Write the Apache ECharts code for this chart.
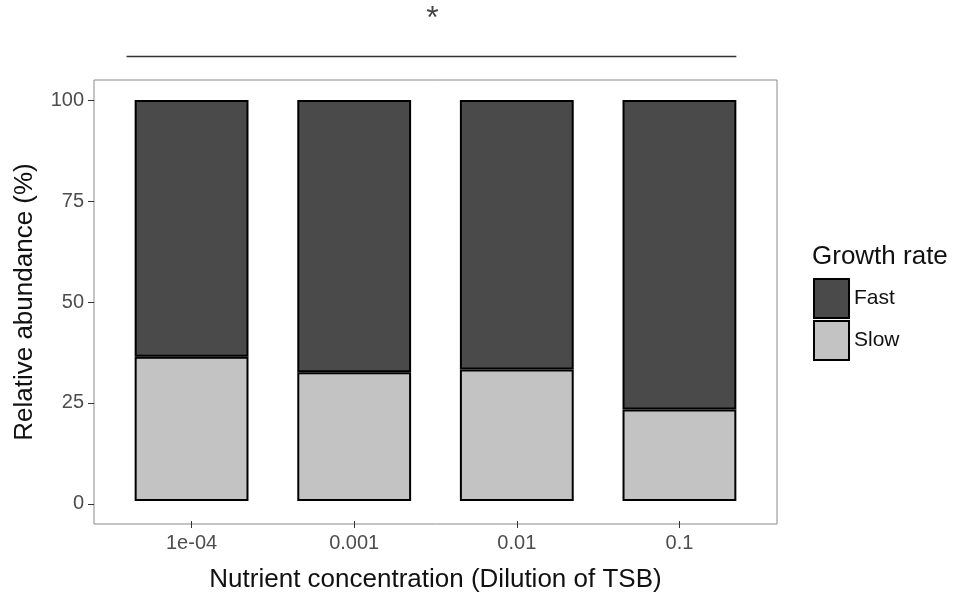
<!DOCTYPE html>
<html>
<head>
<meta charset="utf-8">
<script src="https://cdn.jsdelivr.net/npm/echarts@6/dist/echarts.min.js"></script>
<style>html,body{margin:0;padding:0;background:#fff}#c{width:953px;height:598px}</style>
</head>
<body>
<div id="c"></div>
<script>
var categories = ['1e-04', '0.001', '0.01', '0.1'];
var slowValues = [36.0, 32.1, 32.8, 22.8];
var fastValues = [64.0, 67.9, 67.2, 77.2];
var yTicks = [0, 25, 50, 75, 100];
var sigLabel = '*';
var sigSpan = [0.6, 4.35];
var sigLevel = 110.8;

var FONT = '"Liberation Sans", Arial, sans-serif';
var chart = echarts.init(document.getElementById('c'), null, {renderer: 'canvas'});

// panel geometry: ggplot-style discrete expansion of 0.6 units on each side
var PANEL = {left: 94, right: 176, top: 80, bottom: 74};
var unitPx = (953 - PANEL.left - PANEL.right) / 4.2;
var inset = 0.1 * unitPx;

var option = {
  animation: false,
  backgroundColor: '#ffffff',
  textStyle: {fontFamily: FONT},
  grid: [
    {left: PANEL.left, right: PANEL.right, top: PANEL.top, bottom: PANEL.bottom,
     show: true, borderColor: '#8a8a8a', borderWidth: 1, backgroundColor: '#ffffff'},
    {left: PANEL.left + inset, right: PANEL.right + inset, top: PANEL.top, bottom: PANEL.bottom}
  ],
  title: {
    text: 'Growth rate', left: 812, top: 244, padding: 0,
    textStyle: {fontFamily: FONT, fontSize: 26, fontWeight: 'normal', color: '#111'}
  },
  legend: {
    data: ['Fast', 'Slow'],
    orient: 'vertical', left: 813, top: 278, padding: 0,
    itemWidth: 35, itemHeight: 39, itemGap: 1, icon: 'rect',
    itemStyle: {borderColor: '#000', borderWidth: 2},
    textStyle: {fontFamily: FONT, fontSize: 21, color: '#111'}
  },
  xAxis: [
    {type: 'value', gridIndex: 0, min: 0.4, max: 4.6, show: false},
    {
      type: 'category', gridIndex: 1, data: categories, position: 'bottom',
      name: 'Nutrient concentration (Dilution of TSB)',
      nameLocation: 'middle', nameGap: 46,
      nameTextStyle: {fontFamily: FONT, fontSize: 26, color: '#111'},
      axisLine: {show: false, onZero: false},
      splitLine: {show: false},
      axisTick: {show: true, alignWithLabel: true, length: 7, lineStyle: {color: '#333', width: 1}},
      axisLabel: {margin: 12, fontFamily: FONT, fontSize: 20, color: '#4d4d4d'}
    }
  ],
  yAxis: [
    {
      type: 'value', gridIndex: 0, min: -5, max: 105,
      name: 'Relative abundance (%)',
      nameLocation: 'middle', nameGap: 56, nameRotate: 90,
      nameTextStyle: {fontFamily: FONT, fontSize: 26, color: '#111'},
      axisLine: {show: false, onZero: false},
      splitLine: {show: false},
      axisTick: {show: true, length: 6, customValues: yTicks, lineStyle: {color: '#333', width: 1}},
      axisLabel: {customValues: yTicks, margin: 10, fontFamily: FONT, fontSize: 20, color: '#4d4d4d'}
    },
    {type: 'value', gridIndex: 1, min: -5, max: 105, show: false}
  ],
  series: [
    {
      name: 'Slow', type: 'bar', stack: 'total', barWidth: '70%',
      xAxisIndex: 1, yAxisIndex: 1,
      data: slowValues,
      itemStyle: {color: '#c3c3c3', borderColor: '#000', borderWidth: 2}
    },
    {
      name: 'Fast', type: 'bar', stack: 'total', barWidth: '70%',
      xAxisIndex: 1, yAxisIndex: 1,
      data: fastValues,
      itemStyle: {color: '#4a4a4a', borderColor: '#000', borderWidth: 2}
    }
  ]
};
chart.setOption(option);

var p0 = chart.convertToPixel({xAxisIndex: 0, yAxisIndex: 0}, [sigSpan[0], sigLevel]);
var p1 = chart.convertToPixel({xAxisIndex: 0, yAxisIndex: 0}, [sigSpan[1], sigLevel]);
chart.setOption({
  graphic: [
    {type: 'line', shape: {x1: p0[0], y1: p0[1], x2: p1[0], y2: p1[1]},
     style: {stroke: '#333', lineWidth: 1.5}, silent: true},
    {type: 'text', x: (p0[0] + p1[0]) / 2 + 1, y: p0[1] - 53,
     style: {text: sigLabel, font: '32px ' + FONT, fill: '#444', align: 'center', verticalAlign: 'top'}, silent: true}
  ]
});
</script>
</body>
</html>
